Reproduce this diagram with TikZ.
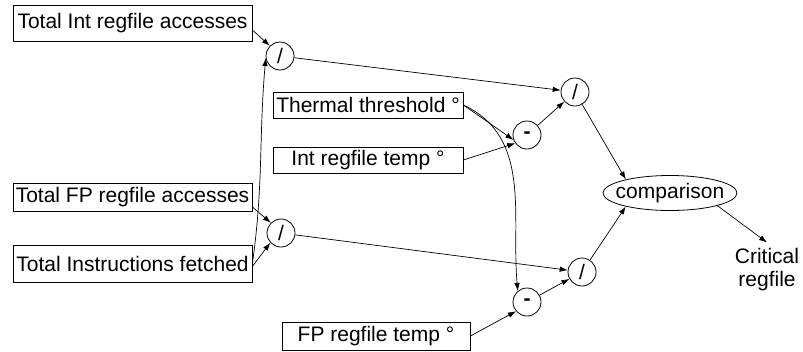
\documentclass[tikz,border=0pt]{standalone}
\usepackage{fontspec}
\setmainfont{Liberation Sans}
\usetikzlibrary{arrows.meta,shapes.geometric}
\begin{document}
\begin{tikzpicture}[x=1pt,y=-1pt,
  every node/.style={font=\fontsize{21}{23}\selectfont},
  box/.style={draw,line width=0.8pt,rectangle,inner sep=0pt},
  op/.style={draw,line width=0.8pt,circle,minimum size=28pt,inner sep=0pt},
  arr/.style={-{Latex[length=8pt,width=5.5pt]},line width=0.7pt}]
\useasboundingbox (0,0) rectangle (803,351);
\node[box,minimum width=239pt,minimum height=36pt] (tia) at (132.5,23) {Total Int regfile accesses};
\node[box,minimum width=239pt,minimum height=28pt] (tfp) at (132.5,197) {Total FP regfile accesses};
\node[box,minimum width=239pt,minimum height=37pt] (tif) at (132.5,263.5) {Total Instructions fetched};
\node[box,minimum width=190pt,minimum height=26pt] (thr) at (368,105) {Thermal threshold °};
\node[box,minimum width=190pt,minimum height=26pt] (irt) at (368,160) {Int regfile temp °};
\node[box,minimum width=188pt,minimum height=28pt] (fpt) at (376,336) {FP regfile temp °};
\node[op] (d1) at (280,56) {/};
\node[op] (d2) at (281,233) {/};
\node[op] (m1) at (527,135) {\textbf{-}};
\node[op] (m2) at (527,302) {\textbf{-}};
\node[op] (d3) at (575,92) {/};
\node[op] (d4) at (582,272) {/};
\node[draw,line width=0.8pt,ellipse,minimum width=134pt,minimum height=35pt,inner sep=0pt] (cmp) at (670,193) {\makebox[0pt]{comparison}};
\node[align=center,inner sep=0pt] (crit) at (767,270) {Critical\\regfile};
\draw[arr] ([yshift=-7pt]tia.east) -- (d1.135);
\draw[arr] (tif.east) to[out=82,in=-95] (d1.188);
\draw[arr] ([yshift=-10pt]tfp.east) -- (d2.135);
\draw[arr] ([yshift=-3pt]tif.east) -- (d2.222);
\draw[arr] (d1) -- (d3);
\draw[arr] (d2) -- (d4);
\draw[arr] (thr.east) -- (m1.200);
\draw[arr] (irt.east) -- (m1.215);
\draw[arr] (thr.east) to[out=-25,in=95] (m2.130);
\draw[arr] (fpt.east) -- (m2.220);
\draw[arr] (m1) -- (d3);
\draw[arr] (m2) -- (d4);
\draw[arr] (d3) -- (cmp.163);
\draw[arr] (d4) -- (cmp.197);
\draw[arr] (cmp.-15) -- ([yshift=6pt]crit.north);
\end{tikzpicture}
\end{document}
